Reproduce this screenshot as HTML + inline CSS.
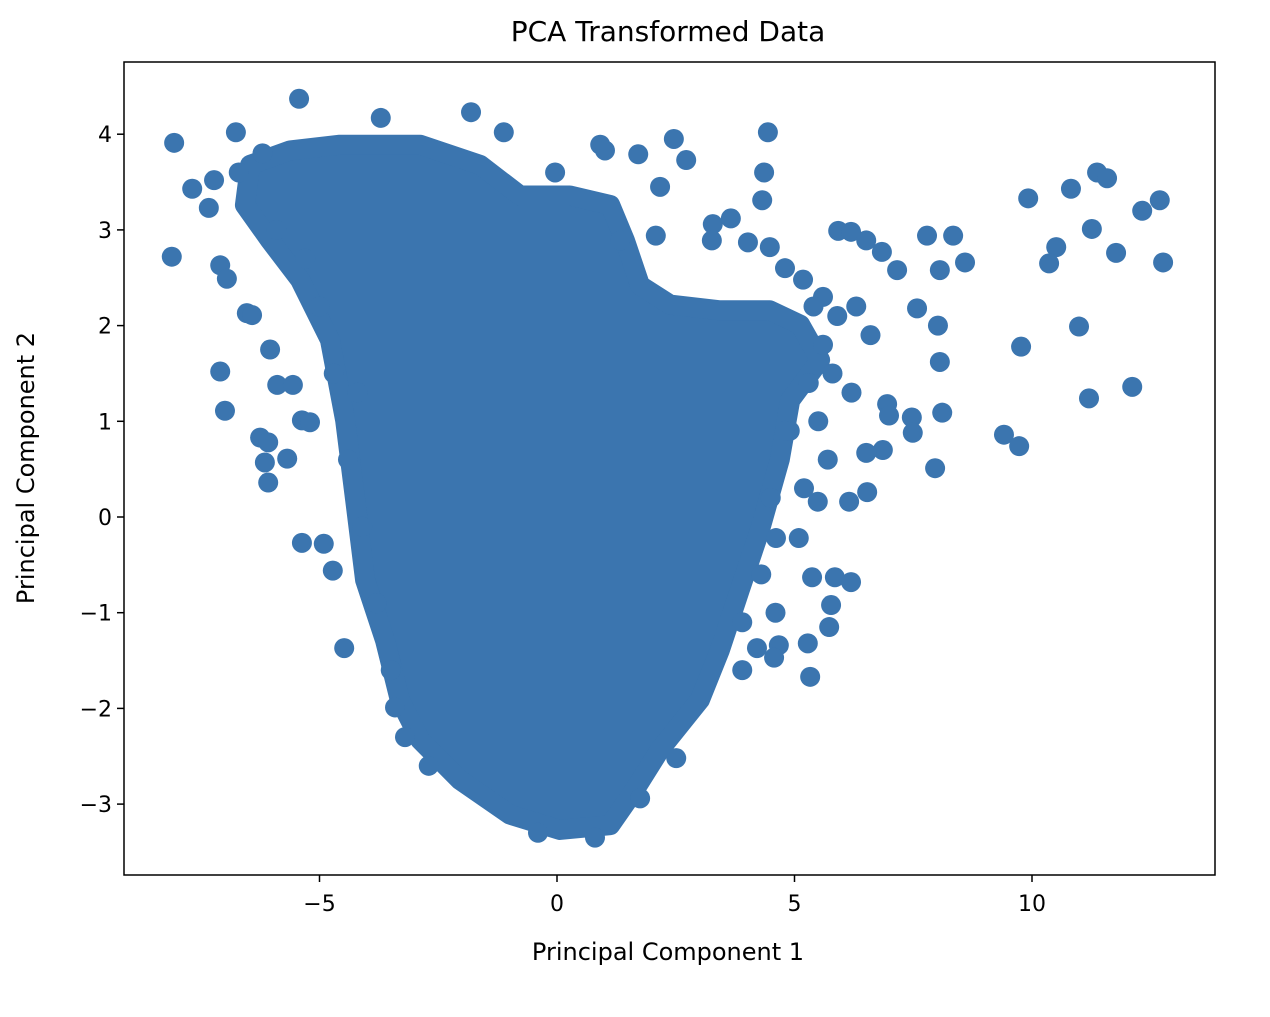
<!DOCTYPE html>
<html><head><meta charset="utf-8"><style>
body{margin:0;background:#fff;}
svg text{font-family:"DejaVu Sans","Liberation Sans",sans-serif;fill:#000;}
</style></head><body>
<svg id="chart" width="1270" height="1012" xmlns="http://www.w3.org/2000/svg"></svg>
<script>
const xTicks=[-5,0,5,10];
const yTicks=[-3,-2,-1,0,1,2,3,4];
const xTickLabels=["\u22125","0","5","10"];
const yTickLabels=["\u22123","\u22122","\u22121","0","1","2","3","4"];
const coreX=[-6.46,-5.62,-4.57,-2.88,-1.62,-0.78,0.27,1.12,1.43,1.75,2.38,3.43,4.48,5.12,5.54,4.91,4.69,4.27,3.85,3.43,3.01,2.17,1.64,1.12,0.06,-0.99,-2.04,-2.88,-3.31,-3.62,-4.04,-4.25,-4.46,-4.78,-5.41,-6.04,-6.57];
const coreY=[3.68,3.83,3.89,3.89,3.68,3.36,3.36,3.26,2.89,2.42,2.22,2.16,2.16,2.01,1.64,1.22,0.6,-0.14,-0.76,-1.39,-1.91,-2.43,-2.85,-3.22,-3.27,-3.11,-2.75,-2.33,-1.91,-1.29,-0.66,0.18,1.01,1.85,2.48,2.89,3.26];
const ptX=[-8.06,-7.68,-7.22,-7.33,-6.76,-8.11,-7.09,-6.95,-7.09,-6.99,-6.25,-6.08,-6.15,-6.08,-5.68,-6.53,-6.42,-6.04,-5.89,-5.56,-5.37,-5.2,-5.37,-4.91,-4.72,-4.48,-3.41,-5.43,-3.71,-1.81,-1.12,0.91,1.01,1.71,2.46,2.72,4.44,4.36,4.32,3.28,3.66,3.26,4.02,4.48,4.8,5.18,5.92,6.19,6.51,6.84,7.16,7.79,8.34,8.59,8.06,9.92,10.82,11.37,11.58,10.51,10.36,11.26,11.77,12.32,12.69,12.76,10.99,9.77,12.11,11.2,9.41,9.73,7.96,8.11,8.06,8.02,7.58,7.47,7.49,6.95,6.99,6.86,6.51,6.53,6.15,5.49,5.37,5.85,6.19,5.77,5.73,5.33,5.28,4.67,4.57,4.21,5.09,4.61,1.75,2.51,1.33,2.08,2.17,-0.04,5.6,5.9,6.3,6.6,5.8,6.2,5.5,5.7,4.9,5.2,4.6,3.9,-4.2,-4.4,-4.1,-3.8,-3.5,-3.2,-2.7,-5.0,-5.3,-4.7,0.8,-0.4,3.9,4.3,4.5,4.8,5.3,5.6,5.4,-6.7,-6.2,-5.9];
const ptY=[3.91,3.43,3.52,3.23,4.02,2.72,2.63,2.49,1.52,1.11,0.83,0.78,0.57,0.36,0.61,2.13,2.11,1.75,1.38,1.38,1.01,0.99,-0.27,-0.28,-0.56,-1.37,-1.99,4.37,4.17,4.23,4.02,3.89,3.83,3.79,3.95,3.73,4.02,3.6,3.31,3.06,3.12,2.89,2.87,2.82,2.6,2.48,2.99,2.98,2.89,2.77,2.58,2.94,2.94,2.66,2.58,3.33,3.43,3.6,3.54,2.82,2.65,3.01,2.76,3.2,3.31,2.66,1.99,1.78,1.36,1.24,0.86,0.74,0.51,1.09,1.62,2.0,2.18,1.04,0.88,1.18,1.06,0.7,0.67,0.26,0.16,0.16,-0.63,-0.63,-0.68,-0.92,-1.15,-1.67,-1.32,-1.34,-1.47,-1.37,-0.22,-0.22,-2.94,-2.52,2.89,2.94,3.45,3.6,2.3,2.1,2.2,1.9,1.5,1.3,1.0,0.6,0.9,0.3,-1.0,-1.6,1.3,0.6,-0.1,-0.9,-1.6,-2.3,-2.6,2.2,2.7,1.5,-3.35,-3.3,-1.1,-0.6,0.2,0.9,1.4,1.8,2.2,3.6,3.8,3.0];

const L=124,R=1215,T=62,B=875;
const sx=v=>557+(v)*47.5;
const sy=v=>517-(v)*95.7;
const NS="http://www.w3.org/2000/svg";
const svg=document.getElementById('chart');
function mk(tag,attrs,parent){const e=document.createElementNS(NS,tag);for(const k in attrs)e.setAttribute(k,attrs[k]);(parent||svg).appendChild(e);return e;}
const col="#3b75af";
const g=mk('g',{});


const poly=mk('polygon',{points:coreX.map((x,i)=>sx(x)+','+sy(coreY[i])).join(' '),fill:col,stroke:col,'stroke-width':20,'stroke-linejoin':'round'},g);


ptX.forEach((x,i)=>{const c=mk('circle',{cx:sx(x),cy:sy(ptY[i]),r:10,fill:col},g);

});
const fr=mk('rect',{x:L,y:T,width:R-L,height:B-T,fill:'none',stroke:'#000','stroke-width':1.5});


xTicks.forEach((v,i)=>{mk('line',{x1:sx(v),x2:sx(v),y1:B,y2:B+7,stroke:'#000','stroke-width':1.5});
const t=mk('text',{x:sx(v),y:B+36,'font-size':22,'text-anchor':'middle'});t.textContent=xTickLabels[i];

});
yTicks.forEach((v,i)=>{mk('line',{x1:L-7,x2:L,y1:sy(v),y2:sy(v),stroke:'#000','stroke-width':1.5});
const t=mk('text',{x:L-12,y:sy(v)+8,'font-size':22,'text-anchor':'end'});t.textContent=yTickLabels[i];

});
const tt=mk('text',{x:668,y:41,'font-size':28,'text-anchor':'middle'});tt.textContent='PCA Transformed Data';


const xl=mk('text',{x:668,y:960,'font-size':24,'text-anchor':'middle'});xl.textContent='Principal Component 1';


const yl=mk('text',{x:0,y:0,'font-size':24,'text-anchor':'middle',transform:'translate(34,468) rotate(-90)'});yl.textContent='Principal Component 2';


</script>
</body></html>
